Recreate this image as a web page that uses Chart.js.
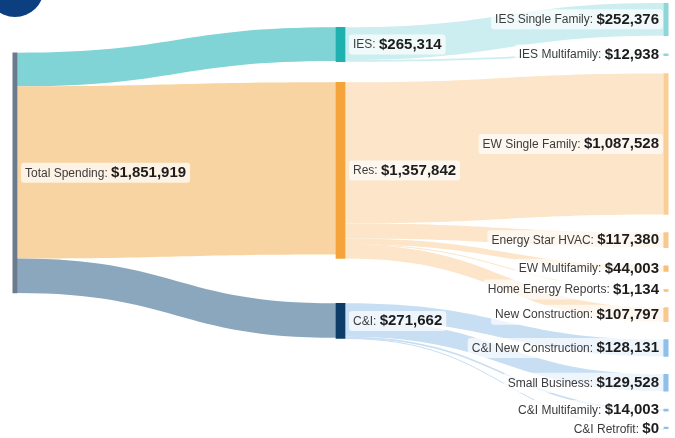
<!DOCTYPE html>
<html>
<head>
<meta charset="utf-8">
<script src="https://cdn.jsdelivr.net/npm/chart.js@4"></script>
<style>
  body { margin: 0; background: #fff; overflow: hidden; }
  #wrap { position: relative; width: 675px; height: 438px; }
  #badge { position: absolute; left: -14px; top: -41px; width: 58px; height: 58px; border-radius: 50%; background: #0b3f7f; z-index: 2; }
</style>
</head>
<body>
<div id="wrap">
  <div id="badge"></div>
  <canvas id="chart" width="675" height="438"></canvas>
</div>
<script>
// nodes, in column order
const nodeNames = ['Total Spending', 'IES', 'Res', 'C&I',
  'IES Single Family', 'IES Multifamily', 'EW Single Family', 'Energy Star HVAC',
  'EW Multifamily', 'Home Energy Reports', 'New Construction', 'C&I New Construction',
  'Small Business', 'C&I Multifamily', 'C&I Retrofit'];
const nodeTotals = [1851919, 265314, 1357842, 271662,
  252376, 12938, 1087528, 117380, 44003, 1134, 107797, 128131, 129528, 14003, 0];
const nodeColumns = [0, 1, 1, 1, 2, 2, 2, 2, 2, 2, 2, 2, 2, 2, 2];

// flows
const linkSources = [0, 0, 0, 1, 1, 2, 2, 2, 2, 2, 3, 3, 3, 3];
const linkTargets = [1, 2, 3, 4, 5, 6, 7, 8, 9, 10, 11, 12, 13, 14];
const linkValues = [265314, 1357842, 271662, 252376, 12938, 1087528, 117380, 44003, 1134, 107797, 128131, 129528, 14003, 0];

// styles
const nodeColors = ['#6c7a8d', '#1fb0b0', '#f4a43a', '#0e3c68',
  '#8ed6d8', '#8ed6d8', '#f9cf95', '#f8c98d', '#f6c07a', '#f6c07a', '#f8c98d',
  '#8fc0ea', '#8fc0ea', '#8fc0ea', '#8fc0ea'];
const linkColors = { 0: ['#80d4d6', '#f8d4a2', '#8ba7bd'], 1: '#cdeef0', 2: '#fce5c8', 3: '#c8def3' };
const NODE_GAP = 139000;
const BAR = 9;
const RELAX = 5;

function layout() {
  const nodes = nodeNames.map((name, i) => ({ i, name, col: nodeColumns[i], value: nodeTotals[i], y0: 0, y1: 0, out: [], inc: [] }));
  const links = linkValues.map((v, k) => ({ k, s: nodes[linkSources[k]], t: nodes[linkTargets[k]], v }));
  links.forEach(l => { l.s.out.push(l); l.t.inc.push(l); });
  nodes.forEach(n => {
    const sum = n.out.reduce((a, l) => a + l.v, 0);
    n.f = sum > n.value ? n.value / sum : 1;
  });
  links.forEach(l => l.w = l.v * l.s.f);

  const cols = [0, 1, 2].map(c => nodes.filter(n => n.col === c));
  const last = cols[2];
  const yMax = last.reduce((a, n) => a + n.value, 0) + (last.length - 1) * NODE_GAP;
  cols.forEach(col => {
    let y = 0;
    col.forEach(n => { n.y0 = y; n.y1 = y + n.value; y = n.y1 + NODE_GAP; });
  });

  const linkY = () => nodes.forEach(n => {
    let y = n.y0;
    n.out.forEach(l => { l.ys = y; y += l.w; });
    y = n.y0;
    n.inc.forEach(l => { l.yt = y; y += l.w; });
  });
  const place = (n, c) => { n.y0 = c - n.value / 2; n.y1 = c + n.value / 2; };
  const wmean = (arr, f) => {
    let s = 0, w = 0;
    arr.forEach(l => { s += f(l) * l.w; w += l.w; });
    return w ? s / w : null;
  };

  for (let it = 0; it < RELAX; it++) {
    linkY();
    cols[1].forEach(n => {
      const a = wmean(n.out, l => l.yt + l.w / 2);
      const b = wmean(n.inc, l => l.ys + l.w / 2);
      place(n, (a + b) / 2);
    });
    linkY();
    cols[0].forEach(n => place(n, wmean(n.out, l => l.yt + l.w / 2)));
  }
  // keep middle column apart and inside
  let y = 0;
  cols[1].forEach(n => {
    if (n.y0 < y) place(n, y + n.value / 2);
    y = n.y1 + NODE_GAP;
  });
  let yb = yMax;
  cols[1].slice().reverse().forEach(n => {
    if (n.y1 > yb) place(n, yb - n.value / 2);
    yb = n.y0 - NODE_GAP;
  });
  linkY();
  return { nodes, links, yMax };
}

const sankey = layout();
const fmt = v => '$' + v.toLocaleString('en-US');

const flowPlugin = {
  id: 'flows',
  beforeDatasetsDraw(chart) {
    const { ctx, scales: { x, y } } = chart;
    ctx.save();
    sankey.links.forEach(l => {
      const xs = x.getPixelForValue(l.s.col) + BAR / 2;
      const xt = x.getPixelForValue(l.t.col) - BAR / 2;
      const xm = (xs + xt) / 2;
      let s0 = y.getPixelForValue(l.ys), s1 = y.getPixelForValue(l.ys + l.w);
      let t0 = y.getPixelForValue(l.yt), t1 = y.getPixelForValue(l.yt + l.w);
      const c = l.s.col === 0 ? linkColors[0][l.t.i - 1] : linkColors[l.s.i];
      ctx.fillStyle = c;
      ctx.strokeStyle = c;
      if (s1 - s0 < 1) {
        ctx.lineWidth = 1;
        ctx.beginPath();
        ctx.moveTo(xs, (s0 + s1) / 2);
        ctx.bezierCurveTo(xm, (s0 + s1) / 2, xm, (t0 + t1) / 2, xt, (t0 + t1) / 2);
        ctx.stroke();
        return;
      }
      ctx.beginPath();
      ctx.moveTo(xs, s0);
      ctx.bezierCurveTo(xm, s0, xm, t0, xt, t0);
      ctx.lineTo(xt, t1);
      ctx.bezierCurveTo(xm, t1, xm, s1, xs, s1);
      ctx.closePath();
      ctx.fill();
    });
    ctx.restore();
  },
  afterDatasetsDraw(chart) {
    const { ctx, scales: { x, y } } = chart;
    const nameFont = '12px "Liberation Sans", Arial, sans-serif';
    const valFont = 'bold 15px "Liberation Sans", Arial, sans-serif';
    ctx.save();
    ctx.textBaseline = 'middle';
    sankey.nodes.forEach(n => {
      const name = n.name + ': ';
      const val = fmt(n.value);
      ctx.font = nameFont;
      const wn = ctx.measureText(name).width;
      ctx.font = valFont;
      const wv = ctx.measureText(val).width;
      const cy = y.getPixelForValue((n.y0 + n.y1) / 2);
      const cx = x.getPixelForValue(n.col);
      let left = n.col === 2 ? cx - BAR / 2 - 5 - wn - wv : cx + BAR / 2 + 8;
      ctx.fillStyle = 'rgba(255,255,255,0.7)';
      ctx.beginPath();
      ctx.roundRect(left - 4, cy - 10, wn + wv + 8, 20, 3);
      ctx.fill();
      ctx.textAlign = 'left';
      ctx.font = nameFont;
      ctx.fillStyle = '#3c3c3c';
      ctx.fillText(name, left, cy + 0.5);
      ctx.font = valFont;
      ctx.fillStyle = '#1c1c1c';
      ctx.fillText(val, left + wn, cy);
    });
    ctx.restore();
  }
};

new Chart(document.getElementById('chart'), {
  type: 'bar',
  data: {
    datasets: [{
      data: sankey.nodes.map(n => ({ x: n.col, y: [n.y0, n.y1] })),
      backgroundColor: nodeColors,
      barThickness: BAR,
      minBarLength: 2
    }]
  },
  options: {
    responsive: false,
    animation: false,
    layout: { padding: { left: 12.5, right: 6.5, top: 3, bottom: 9 } },
    scales: {
      x: { type: 'linear', min: 0, max: 2, offset: false, display: false },
      y: { type: 'linear', min: 0, max: sankey.yMax, reverse: true, display: false }
    },
    plugins: { legend: { display: false }, tooltip: { enabled: false } }
  },
  plugins: [flowPlugin]
});
</script>
</body>
</html>
